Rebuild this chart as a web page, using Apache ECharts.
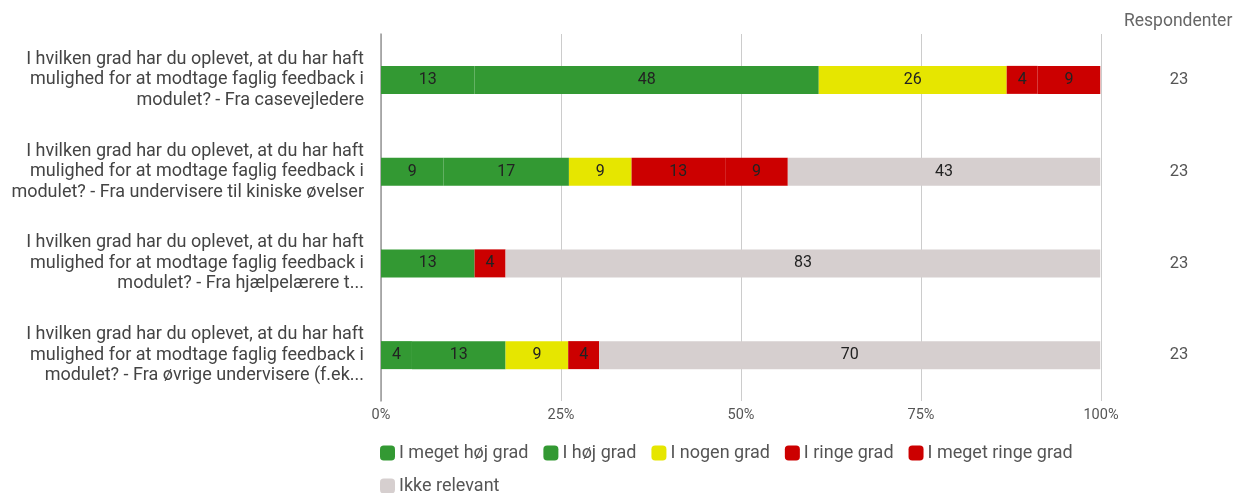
<!DOCTYPE html>
<html>
<head>
<meta charset="utf-8">
<script src="https://cdn.jsdelivr.net/npm/echarts@6/dist/echarts.min.js"></script>
<style>
  html, body { margin: 0; padding: 0; background: #fff; }
  #chart { width: 1236px; height: 493px; }
</style>
</head>
<body>
<div id="chart"></div>
<script>
// spørgsmål (kategorier)
const categories = [
  "I hvilken grad har du oplevet, at du har haft\nmulighed for at modtage faglig feedback i\nmodulet? - Fra casevejledere",
  "I hvilken grad har du oplevet, at du har haft\nmulighed for at modtage faglig feedback i\nmodulet? - Fra undervisere til kiniske øvelser",
  "I hvilken grad har du oplevet, at du har haft\nmulighed for at modtage faglig feedback i\nmodulet? - Fra hjælpelærere t...",
  "I hvilken grad har du oplevet, at du har haft\nmulighed for at modtage faglig feedback i\nmodulet? - Fra øvrige undervisere (f.ek..."
];
const respondents = ["23", "23", "23", "23"];
const seriesNames = ["I meget høj grad", "I høj grad", "I nogen grad", "I ringe grad", "I meget ringe grad", "Ikke relevant"];
const seriesColors = ["#339933", "#339933", "#e6e600", "#cc0000", "#cc0000", "#d6cfcf"];

// procent pr. serie, en værdi pr. spørgsmål
const megetHoej   = [13.0, 8.7, 13.0, 4.3];
const hoej        = [47.8, 17.4, 0, 13.0];
const nogen       = [26.1, 8.7, 0, 8.7];
const ringe       = [4.3, 13.0, 4.3, 4.3];
const megetRinge  = [8.7, 8.7, 0, 0];
const ikkeRelevant = [0, 43.4, 82.6, 69.6];
const allValues = [megetHoej, hoej, nogen, ringe, megetRinge, ikkeRelevant];

const xTicks = [0, 25, 50, 75, 100];

const font = "Roboto, 'Noto Sans', sans-serif";
const chart = echarts.init(document.getElementById("chart"));

const series = seriesNames.map((name, i) => ({
  name: name,
  type: "bar",
  stack: "total",
  barWidth: 28,
  itemStyle: { color: seriesColors[i] },
  label: {
    show: true,
    position: "inside",
    color: "#222",
    fontSize: 16,
    fontFamily: font,
    formatter: (p) => (p.value ? Math.round(p.value) : "")
  },
  emphasis: { disabled: true },
  data: allValues[i].map((v) => (v ? v : null))
}));

chart.setOption({
  animation: false,
  textStyle: { fontFamily: font },
  grid: { left: 381, right: 135, top: 34, bottom: 92, containLabel: false },
  legend: {
    left: 375,
    top: 439,
    width: 730,
    icon: "roundRect",
    itemWidth: 15,
    itemHeight: 15,
    itemGap: 15,
    textStyle: { color: "#555", fontSize: 18, fontFamily: font, padding: [0, 0, 0, -1] },
    data: seriesNames
  },
  graphic: [{
    type: "text",
    left: 1124,
    top: 13,
    style: { text: "Respondenter", fill: "#666", fontSize: 17.5, fontFamily: font }
  }],
  xAxis: {
    type: "value",
    min: xTicks[0],
    max: xTicks[xTicks.length - 1],
    interval: 25,
    axisLine: { show: false },
    axisTick: { show: false },
    splitLine: { lineStyle: { color: "#cccccc", width: 1 } },
    axisLabel: {
      color: "#555",
      fontSize: 14.5,
      margin: 7,
      formatter: (v) => v + "%"
    }
  },
  yAxis: [{
    type: "category",
    inverse: true,
    data: categories,
    axisLine: { show: true, lineStyle: { color: "#999", width: 1.5 } },
    axisTick: { show: false },
    axisLabel: {
      color: "#444",
      fontSize: 18,
      lineHeight: 20.5,
      margin: 17,
      align: "right",
      padding: [3, 0, 0, 0]
    }
  }, {
    type: "category",
    inverse: true,
    position: "right",
    data: respondents,
    axisLine: { show: false },
    axisTick: { show: false },
    axisLabel: {
      color: "#555",
      fontSize: 16.5,
      margin: 78,
      align: "center"
    }
  }],
  series: series
});
</script>
</body>
</html>
